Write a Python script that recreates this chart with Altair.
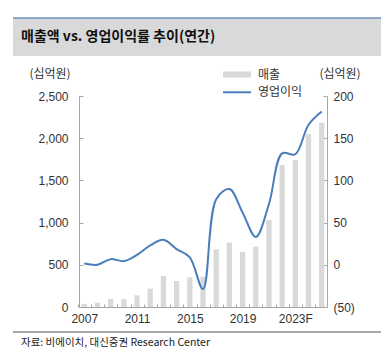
import altair as alt
import pandas as pd

years = ["2007", "2008", "2009", "2010", "2011", "2012", "2013", "2014", "2015",
         "2016", "2017", "2018", "2019", "2020", "2021", "2022", "2023F", "2024F", "2025F"]
sales = [36, 51, 95, 91, 139, 217, 367, 308, 352, 359, 684, 762, 652, 715, 1031,
         1683, 1742, 2050, 2184]
op_income = [1.5, 0, 6.7, 4.4, 11.8, 23, 29.6, 18.6, 8.7, -28.8, 77.8, 89.7, 62,
             33, 72, 132, 131, 166, 181.7]
shown_years = ["2007", "2011", "2015", "2019", "2023F"]

df = pd.DataFrame({"year": years, "sales": sales, "op": op_income})

BAR = "#d9d9d9"
LINE = "#4a7ebb"
AXIS = "#a6a6a6"
TXT = "#333333"
FONT = "Liberation Sans"
KFONT = "Noto Sans CJK KR"

W, H = 248, 211

xenc = alt.X(
    "year:N", sort=years,
    scale=alt.Scale(paddingInner=0.6, paddingOuter=0.2),
    axis=alt.Axis(
        title=None, labelAngle=0, domainColor=AXIS, tickColor=AXIS,
        tickSize={"expr": "-3"}, tickOffset=-6.5, labelOffset=6.5,
        labelPadding=9, labelFont=FONT, labelFontSize=12, labelColor=TXT,
        labelExpr="indexof(" + str(shown_years) + ", datum.value) >= 0 ? datum.value : ''",
    ),
)

bars = alt.Chart(df).mark_bar(color=BAR).encode(
    x=xenc,
    y=alt.Y("sales:Q", scale=alt.Scale(domain=[0, 2500]),
            axis=alt.Axis(title=None, orient="left", values=[0, 500, 1000, 1500, 2000, 2500],
                          grid=False, domainColor=AXIS, tickColor=AXIS,
                          tickSize={"expr": "-4"}, labelPadding=15,
                          labelFont=FONT, labelFontSize=12, labelColor=TXT,
                          labelExpr="format(datum.value, ',')")),
)

line = alt.Chart(df).mark_line(color=LINE, strokeWidth=2, interpolate="catmull-rom").encode(
    x=alt.X("year:N", sort=years),
    y=alt.Y("op:Q", scale=alt.Scale(domain=[-50, 200]),
            axis=alt.Axis(title=None, orient="right", values=[-50, 0, 50, 100, 150, 200],
                          grid=False, domainColor=AXIS, tickColor=AXIS,
                          tickSize={"expr": "-4"}, labelPadding=10,
                          labelFont=FONT, labelFontSize=12, labelColor=TXT,
                          labelExpr="datum.value < 0 ? '(' + format(-datum.value, ',') + ')' : format(datum.value, ',')")),
)

one = alt.Chart(pd.DataFrame({"k": [0]}))

band = one.mark_rect(color="#d9d9d9").encode(
    x=alt.value(-66), x2=alt.value(302), y=alt.value(-78), y2=alt.value(-40))
topline = one.mark_rule(color="#6f8fbf", strokeWidth=1.5).encode(
    x=alt.value(-66), x2=alt.value(302), y=alt.value(-78))
botline = one.mark_rule(color="#555555", strokeWidth=1).encode(
    x=alt.value(-66), x2=alt.value(302), y=alt.value(236))

def txt(s, x, y, size=12, weight="normal", align="left", font=KFONT, color=TXT):
    return one.mark_text(align=align, baseline="middle", font=font, fontSize=size,
                         fontWeight=weight, color=color).encode(
        x=alt.value(x), y=alt.value(y), text=alt.value(s))

title = txt("매출액 vs. 영업이익률 추이(연간)", -58, -59, size=14, weight="bold", color="#111111")
source = txt("자료: 비에이치, 대신증권 Research Center", -58, 247, size=10.5, color="#222222")
unit_l = txt("(십억원)", -29, -22, align="center")
unit_r = txt("(십억원)", 261, -22, align="center")

leg_rect = one.mark_rect(color=BAR).encode(
    x=alt.value(144), x2=alt.value(172), y=alt.value(-24.5), y2=alt.value(-18.5))
leg_line = one.mark_rule(color=LINE, strokeWidth=2).encode(
    x=alt.value(144), x2=alt.value(172), y=alt.value(-3.7))
leg_t1 = txt("매출", 179, -21.5)
leg_t2 = txt("영업이익", 179, -3.7)

chart = alt.layer(
    band, topline, botline, title, source, unit_l, unit_r,
    leg_rect, leg_line, leg_t1, leg_t2,
    bars, line,
).resolve_scale(y="independent").properties(
    width=W, height=H,
    autosize=alt.AutoSizeParams(type="none"),
    padding={"left": 71, "top": 88, "right": 54, "bottom": 47},
    background="white",
).configure_view(stroke=None)

chart.save("out.html", embed_options={"renderer": "svg", "actions": False})
